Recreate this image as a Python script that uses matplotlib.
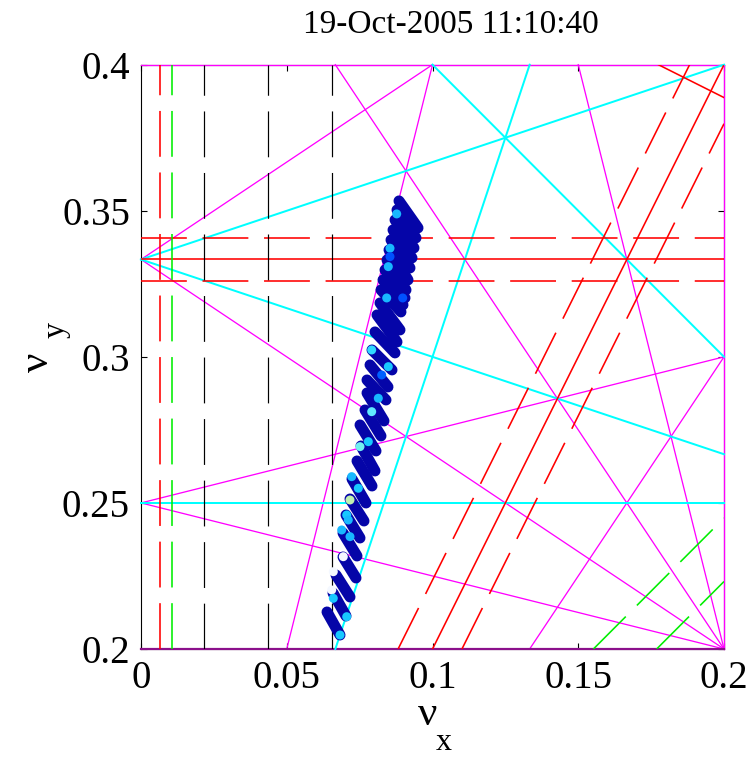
import matplotlib
matplotlib.use("Agg")
import matplotlib.pyplot as plt

# ---------------- data ----------------
title_text = "19-Oct-2005 11:10:40"
x_ticks = [0, 0.05, 0.1, 0.15, 0.2]
x_tick_labels = ["0", "0.05", "0.1", "0.15", "0.2"]
y_ticks = [0.2, 0.25, 0.3, 0.35, 0.4]
y_tick_labels = ["0.2", "0.25", "0.3", "0.35", "0.4"]

# resonance lines (endpoints in tune space)
cyan_x0 = [0.0, 0.0, 0.0, 0.1, 0.06667]
cyan_y0 = [0.33333, 0.33333, 0.25, 0.4, 0.2]
cyan_x1 = [0.2, 0.2, 0.2, 0.2, 0.13333]
cyan_y1 = [0.4, 0.26667, 0.25, 0.3, 0.4]

magenta_x0 = [0.0, 0.0, 0.0, 0.0, 0.05, 0.06667, 0.15, 0.13333, 0.0, 0.2]
magenta_y0 = [0.33333, 0.33333, 0.25, 0.25, 0.2, 0.4, 0.4, 0.2, 0.4, 0.2]
magenta_x1 = [0.1, 0.2, 0.2, 0.2, 0.1, 0.2, 0.2, 0.2, 0.2, 0.2]
magenta_y1 = [0.4, 0.2, 0.3, 0.2, 0.4, 0.2, 0.2, 0.3, 0.4, 0.4]

bottom_x = [0.0, 0.2]
bottom_y = [0.2, 0.2]

red_solid_x0 = [0.0, 0.1, 0.1775]
red_solid_y0 = [0.33333, 0.2, 0.4]
red_solid_x1 = [0.2, 0.2, 0.2]
red_solid_y1 = [0.33333, 0.4, 0.38875]

red_dash_x0 = [0.0, 0.0, 0.0066, 0.0882, 0.1101]
red_dash_y0 = [0.34083, 0.32583, 0.2, 0.2, 0.2]
red_dash_x1 = [0.2, 0.2, 0.0066, 0.1882, 0.2]
red_dash_y1 = [0.34083, 0.32583, 0.4, 0.4, 0.3798]

black_dash_x = [0.0217, 0.0437, 0.0656]

green_dash_x0 = [0.0107, 0.1552, 0.1769]
green_dash_y0 = [0.2, 0.2, 0.2]
green_dash_x1 = [0.0107, 0.2, 0.2]
green_dash_y1 = [0.4, 0.2448, 0.2231]

# measured tune streaks (start -> end of each streak)
streak_x0 = [0.06381, 0.06587, 0.06690, 0.06930, 0.06930, 0.07033, 0.07170, 0.07238,
             0.07410, 0.07547, 0.07513, 0.07684, 0.07753, 0.07753, 0.07856, 0.07925,
             0.08027, 0.08096, 0.08199, 0.08233, 0.08302, 0.08370, 0.08439, 0.08508,
             0.08576, 0.08645, 0.08714, 0.08782, 0.08851]
streak_y0 = [0.21267, 0.21917, 0.22533, 0.23150, 0.23971, 0.24587, 0.25135, 0.25820,
             0.26436, 0.26950, 0.27669, 0.28182, 0.28764, 0.29209, 0.29723, 0.30236,
             0.30853, 0.31434, 0.31845, 0.32290, 0.32633, 0.32975, 0.33317, 0.33660,
             0.34002, 0.34344, 0.34687, 0.35029, 0.35337]
streak_x1 = [0.06827, 0.07033, 0.07170, 0.07376, 0.07410, 0.07513, 0.07650, 0.07719,
             0.07925, 0.08027, 0.08062, 0.08233, 0.08336, 0.08405, 0.08473, 0.08611,
             0.08714, 0.08782, 0.08885, 0.08919, 0.08988, 0.09057, 0.09091, 0.09160,
             0.09228, 0.09297, 0.09365, 0.09434, 0.09503]
streak_y1 = [0.20479, 0.21130, 0.21780, 0.22431, 0.23184, 0.23800, 0.24382, 0.24998,
             0.25580, 0.26094, 0.26779, 0.27292, 0.27806, 0.28524, 0.28970, 0.29552,
             0.30134, 0.30510, 0.30921, 0.31537, 0.31777, 0.32017, 0.32290, 0.32633,
             0.33043, 0.33386, 0.33728, 0.34071, 0.34413]

hl_x = [0.08772, 0.08542, 0.08484, 0.08542, 0.08978, 0.08429, 0.07914, 0.08141,
        0.07914, 0.08257, 0.08484, 0.07513, 0.07798, 0.07228, 0.07455, 0.07170,
        0.07057, 0.07111, 0.06885, 0.06940, 0.06597, 0.06542, 0.06597, 0.07057,
        0.06827, 0.07170]
hl_y = [0.34892, 0.33718, 0.33088, 0.33430, 0.32016, 0.32016, 0.30236, 0.28583,
        0.28124, 0.29380, 0.29664, 0.26926, 0.27097, 0.25899, 0.25502, 0.25101,
        0.24587, 0.24416, 0.24074, 0.23160, 0.22646, 0.22020, 0.21736, 0.21106,
        0.20479, 0.23845]
hl_c = ["#18b8ff", "#18b8ff", "#18b8ff", "#0050ff", "#0050ff", "#18b8ff", "#30d8ff", "#18b8ff",
        "#60e8ff", "#0060ff", "#18c8ff", "#70f0f0", "#18c8ff", "#18b8ff", "#18c8ff", "#c0f0b0",
        "#18c8ff", "#18b8ff", "#18b8ff", "#f4f8ff", "#f4f8ff", "#f4f8ff", "#18c8ff", "#18c8ff",
        "#18c8ff", "#18b8ff"]

# ---------------- figure ----------------
plt.rcParams['lines.scale_dashes'] = False
plt.rcParams['font.family'] = ['Liberation Serif', 'DejaVu Serif']

W, H = 755, 766
fig = plt.figure(figsize=(W / 100, H / 100), dpi=100)
ax = fig.add_axes([141 / W, 117 / H, 583 / W, 584.3 / H])
ax.set_xlim(0, 0.2)
ax.set_ylim(0.2, 0.4)

px = 0.72  # one pixel in points
dash = (0, (33, 11.3))

for x0, y0, x1, y1 in zip(magenta_x0, magenta_y0, magenta_x1, magenta_y1):
    ax.plot([x0, x1], [y0, y1], color='#ff00ff', lw=1.3 * px, zorder=2, clip_on=False)
ax.plot(bottom_x, bottom_y, color='#8b108b', lw=2.2 * px, zorder=2, clip_on=False)

for x0, y0, x1, y1 in zip(cyan_x0, cyan_y0, cyan_x1, cyan_y1):
    ax.plot([x0, x1], [y0, y1], color='#00ffff', lw=2.0 * px, zorder=2, clip_on=False)

for x0, y0, x1, y1 in zip(red_solid_x0, red_solid_y0, red_solid_x1, red_solid_y1):
    ax.plot([x0, x1], [y0, y1], color='#ff0000', lw=1.6 * px, zorder=2)
for x0, y0, x1, y1 in zip(red_dash_x0, red_dash_y0, red_dash_x1, red_dash_y1):
    ax.plot([x0, x1], [y0, y1], color='#ff0000', lw=1.6 * px, ls=dash, zorder=2)

for xv in black_dash_x:
    ax.plot([xv, xv], [0.2, 0.4], color='black', lw=1.2 * px, ls=dash, zorder=2)

for x0, y0, x1, y1 in zip(green_dash_x0, green_dash_y0, green_dash_x1, green_dash_y1):
    ax.plot([x0, x1], [y0, y1], color='#00ee00', lw=1.6 * px, ls=dash, zorder=2)

for x0, y0, x1, y1 in zip(streak_x0, streak_y0, streak_x1, streak_y1):
    ax.plot([x0, x1], [y0, y1], color='#0505a8', lw=11 * px,
            solid_capstyle='round', zorder=3)

ax.scatter(hl_x, hl_y, s=(9 * px) ** 2, c=hl_c, edgecolors='none', zorder=4)

ax.set_xticks(x_ticks)
ax.set_xticklabels(x_tick_labels)
ax.set_yticks(y_ticks)
ax.set_yticklabels(y_tick_labels)
ax.tick_params(direction='in', length=4, width=0.8, top=True, right=True,
               labelsize=28, pad=8)
for lab in ax.get_xticklabels() + ax.get_yticklabels():
    lab.set_fontfamily('Liberation Serif')
for sp in ax.spines.values():
    sp.set_linewidth(0.8)
    sp.set_zorder(1)

# title
fig.text(451 / W, 1 - 25 / H, title_text, ha='center', va='center',
         fontsize=24, fontfamily='Liberation Serif')

# axis labels
fig.text(428 / W, 1 - 715 / H, "ν", ha='center', va='center', fontsize=31,
         fontfamily='Liberation Serif')
fig.text(444 / W, 1 - 742 / H, "x", ha='center', va='center', fontsize=23,
         fontfamily='Liberation Serif')
fig.text(38 / W, 1 - 362 / H, "ν", ha='center', va='center', fontsize=31,
         fontfamily='Liberation Serif', rotation=90)
fig.text(56 / W, 1 - 330 / H, "y", ha='center', va='center', fontsize=23,
         fontfamily='Liberation Serif', rotation=90)

fig.savefig("out.png", dpi=100)
